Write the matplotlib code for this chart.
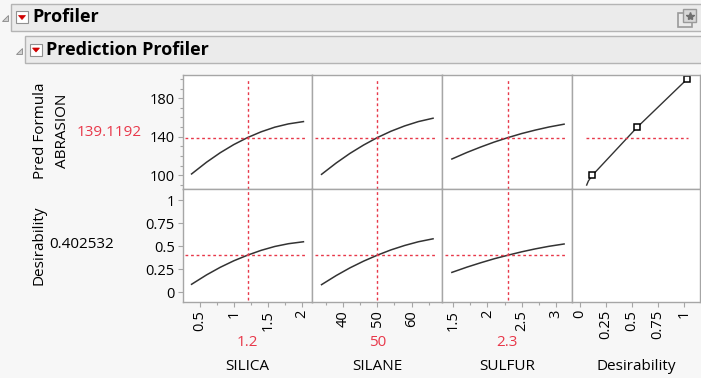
import matplotlib
matplotlib.use("Agg")
import matplotlib.pyplot as plt
from matplotlib.patches import Rectangle, Polygon

plt.rcParams["font.family"] = ["Open Sans", "DejaVu Sans"]

factors = ["SILICA", "SILANE", "SULFUR"]
current = [1.2, 50, 2.3]
pred_value = 139.1192
desir_value = 0.402532

silica_x = [0.38, 0.6, 0.8, 1.0, 1.2, 1.4, 1.6, 1.8, 2.02]
silica_abr = [101.4, 113.6, 123.4, 131.9, 139.1, 145.1, 149.9, 153.3, 155.7]
silica_des = [0.087, 0.189, 0.271, 0.342, 0.4025, 0.455, 0.497, 0.527, 0.548]

silane_x = [33.7, 38, 42, 46, 50, 54, 58, 62, 66.3]
silane_abr = [101.0, 112.8, 122.7, 131.4, 139.1, 145.7, 151.2, 155.7, 159.2]
silane_des = [0.083, 0.182, 0.265, 0.338, 0.4025, 0.460, 0.508, 0.548, 0.580]

sulfur_x = [1.48, 1.7, 1.9, 2.1, 2.3, 2.5, 2.7, 2.9, 3.12]
sulfur_abr = [116.9, 123.7, 129.3, 134.5, 139.1, 143.3, 146.9, 150.1, 153.0]
sulfur_des = [0.216, 0.273, 0.320, 0.364, 0.4025, 0.439, 0.471, 0.499, 0.524]

# desirability function: desirability (x) vs ABRASION (y)
dfun_d = [0.064, 0.08, 0.118, 0.55, 1.03]
dfun_abr = [89.9, 94.1, 100, 150, 200]
handle_d = [0.118, 0.55, 1.03]
handle_abr = [100, 150, 200]

xlims = [(0.25, 2.15), (31.0, 69.0), (1.34, 3.24)]
xmajor = [[0.5, 1, 1.5, 2], [40, 50, 60], [1.5, 2, 2.5, 3]]
xmajor_lbl = [["0.5", "1", "1.5", "2"], ["40", "50", "60"], ["1.5", "2", "2.5", "3"]]
xminor = [[0.75, 1.25, 1.75], [35, 45, 55, 65], [1.75, 2.25, 2.75]]
cur_lbl = ["1.2", "50", "2.3"]

des_ticks = [0, 0.25, 0.5, 0.75, 1]
des_lbl = ["0", "0.25", "0.5", "0.75", "1"]
abr_ticks = [100, 140, 180]
abr_minor = [90, 110, 120, 130, 150, 160, 170, 190, 200]

W, H = 701, 378
BG = "#f7f7f7"
FRAME = "#a6a6a6"
RED = "#e8384a"
CURVE = "#333333"

fig = plt.figure(figsize=(W / 100, H / 100), dpi=100, facecolor=BG)

# overlay in pixel coordinates for headers / labels
ov = fig.add_axes([0, 0, 1, 1], facecolor="none")
ov.set_xlim(0, W)
ov.set_ylim(H, 0)
ov.axis("off")


def header(x0, y0, y1, text, tri_x, icon_x):
    ov.add_patch(Rectangle((x0, y0), W - x0 + 2, y1 - y0, facecolor="#ebebeb",
                           edgecolor="#b4b4b4", lw=1))
    ov.add_patch(Polygon([[tri_x + 6, (y0 + y1) / 2 - 2], [tri_x + 6, (y0 + y1) / 2 + 4],
                          [tri_x, (y0 + y1) / 2 + 4]], closed=True,
                         facecolor="#d0d0d0", edgecolor="#888888", lw=0.6))
    cy = (y0 + y1) / 2
    ov.add_patch(Rectangle((icon_x, cy - 6), 12, 12, facecolor="white",
                           edgecolor="#909090", lw=0.8))
    ov.add_patch(Polygon([[icon_x + 2.5, cy - 1.5], [icon_x + 9.5, cy - 1.5],
                          [icon_x + 6, cy + 2.5]], closed=True, facecolor="#d00000",
                         edgecolor="#d00000", lw=0.5))
    ov.text(icon_x + 16, cy + 0.5, text, fontsize=13, fontweight="bold",
            va="center", ha="left", color="black")


header(11, 3.5, 30.5, "Profiler", 2, 16)
header(25, 36, 63, "Prediction Profiler", 16, 30)

# icon top right
ov.add_patch(Rectangle((678, 13), 14, 14, facecolor="none", edgecolor="#9a9a9a", lw=1.2))
ov.add_patch(Rectangle((683, 9), 13, 13, facecolor="#d8d8d8", edgecolor="#9a9a9a", lw=1.0))
ov.plot([689.5], [15.5], marker="*", ms=6, color="#707070", mec="#707070")

# panel geometry in pixels
col_x = [182.7, 312.3, 442.3, 572.3, 700]
row_y = [75, 189, 302]


def make_ax(c, r):
    x0, x1 = col_x[c], col_x[c + 1]
    y0, y1 = row_y[r], row_y[r + 1]
    ax = fig.add_axes([x0 / W, 1 - y1 / H, (x1 - x0) / W, (y1 - y0) / H])
    ax.set_facecolor("white")
    for s in ax.spines.values():
        s.set_color(FRAME)
        s.set_linewidth(1.0)
    ax.tick_params(which="both", colors=FRAME, labelcolor="black", labelsize=10.5,
                   length=3.6, width=0.8, pad=2)
    ax.tick_params(which="minor", length=2.2)
    return ax


xs = [silica_x, silane_x, sulfur_x]
abrs = [silica_abr, silane_abr, sulfur_abr]
dess = [silica_des, silane_des, sulfur_des]

axes = {}
for r in range(2):
    for c in range(4):
        ax = make_ax(c, r)
        axes[(r, c)] = ax
        if r == 0:
            ax.set_ylim(85.8, 204)
        else:
            ax.set_ylim(-0.105, 1.12)
        if c < 3:
            ax.set_xlim(*xlims[c])
        else:
            ax.set_xlim(-0.074, 1.151)
        ax.set_xticks([])
        ax.set_yticks([])

for c in range(3):
    top, bot = axes[(0, c)], axes[(1, c)]
    top.plot(xs[c], abrs[c], color=CURVE, lw=1.1)
    bot.plot(xs[c], dess[c], color=CURVE, lw=1.1)
    top.axvline(current[c], ymin=0.0, ymax=0.965, color=RED, lw=1.0, ls=(0, (2, 2)))
    bot.axvline(current[c], ymin=0.018, ymax=1.0, color=RED, lw=1.0, ls=(0, (2, 2)))
    top.axhline(pred_value, xmin=0.018, xmax=0.944, color=RED, lw=1.0, ls=(0, (2, 2)))
    bot.axhline(desir_value, xmin=0.018, xmax=0.944, color=RED, lw=1.0, ls=(0, (2, 2)))
    bot.set_xticks(xmajor[c])
    bot.set_xticklabels(xmajor_lbl[c], rotation=90)
    bot.set_xticks(xminor[c], minor=True)

# desirability function panel
dax = axes[(0, 3)]
dax.plot(dfun_d, dfun_abr, color=CURVE, lw=1.0)
dax.plot(handle_d, handle_abr, ls="none", marker="s", ms=4.5, mfc="white",
         mec="black", mew=1.1)
dax.axhline(pred_value, xmin=0.107, xmax=0.909, color=RED, lw=1.0, ls=(0, (2, 2)))
axes[(1, 3)].set_xticks(des_ticks)
axes[(1, 3)].set_xticklabels(des_lbl, rotation=90)

# y axes on first column
axes[(0, 0)].set_yticks(abr_ticks)
axes[(0, 0)].set_yticks(abr_minor, minor=True)
axes[(1, 0)].set_yticks(des_ticks)
axes[(1, 0)].set_yticklabels(des_lbl)

# row labels and current values
ov.text(41, 131, "Pred Formula", rotation=90, ha="center", va="center", fontsize=11)
ov.text(63, 131, "ABRASION", rotation=90, ha="center", va="center", fontsize=11)
ov.text(109, 132, f"{pred_value:.4f}", ha="center", va="center", fontsize=11, color=RED)
ov.text(39, 245, "Desirability", rotation=90, ha="center", va="center", fontsize=11)
ov.text(82, 245, f"{desir_value:.6f}", ha="center", va="center", fontsize=11)

# column labels
col_names = factors + ["Desirability"]
for c in range(4):
    cx = (col_x[c] + col_x[c + 1]) / 2
    if c < 3:
        ov.text(cx, 342, cur_lbl[c], ha="center", va="center", fontsize=11, color=RED)
    ov.text(cx, 366, col_names[c], ha="center", va="center", fontsize=11)

fig.savefig("out.png", dpi=100, facecolor=BG)
